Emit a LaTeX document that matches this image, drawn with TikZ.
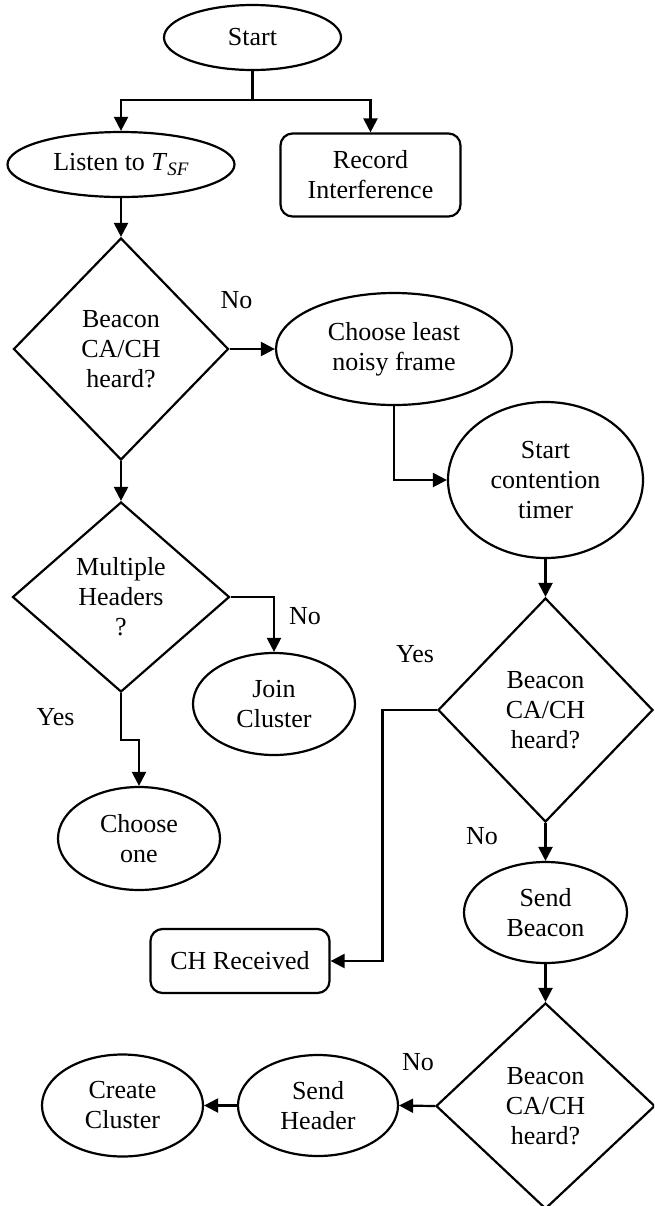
\documentclass[tikz,border=0pt]{standalone}
\usepackage{fontspec}
\setmainfont{Liberation Serif}
\usetikzlibrary{shapes.geometric,arrows.meta}
\tikzset{
  base/.style={draw=black, line width=1.1pt, inner sep=0pt, align=center,
    font=\fontsize{13}{15}\selectfont},
  oval/.style={base, ellipse},
  box/.style={base, rectangle, rounded corners=6pt},
  decision/.style={base, diamond},
  lbl/.style={inner sep=0pt, font=\fontsize{13}{15}\selectfont},
  arr/.style={line width=1.1pt, -{Triangle[length=7pt,width=7pt]}},
  ln/.style={line width=1.1pt}
}
\begin{document}
\begin{tikzpicture}[x=0.5pt, y=-0.5pt]
\useasboundingbox (0,0) rectangle (654,1206);
\clip (0,0) rectangle (654,1206);
% nodes
\node[oval, minimum width=88.5pt, minimum height=32.5pt] (start) at (252.5,37.5) {Start};
\node[oval, minimum width=113.5pt, minimum height=32.5pt] (listen) at (121,164.5) {Listen to \textit{T}\raisebox{-0.45ex}{\fontsize{9.5}{10}\selectfont\textit{SF}}};
\node[box, minimum width=90pt, minimum height=41.5pt] (record) at (370.5,175) {Record\\Interference};
\node[decision, minimum width=107.5pt, minimum height=111pt] (d1) at (121,349) {Beacon\\CA/CH\\heard?};
\node[oval, minimum width=118pt, minimum height=56pt] (choose) at (394,349) {Choose least\\noisy frame};
\node[oval, minimum width=97.5pt, minimum height=78pt] (timer) at (545.5,480) {Start\\contention\\timer};
\node[decision, minimum width=108.5pt, minimum height=95pt] (d2) at (121,597) {Multiple\\Headers\\?};
\node[oval, minimum width=81pt, minimum height=51pt] (join) at (274,704) {Join\\Cluster};
\node[oval, minimum width=81pt, minimum height=51.5pt] (one) at (139,838.5) {Choose\\one};
\node[decision, minimum width=107.5pt, minimum height=112pt] (d3) at (545.5,710) {Beacon\\CA/CH\\heard?};
\node[box, minimum width=89.5pt, minimum height=32pt] (chr) at (240,961) {CH Received};
\node[oval, minimum width=81.5pt, minimum height=50.5pt] (beacon) at (545.5,912.5) {Send\\Beacon};
\node[decision, minimum width=109.5pt, minimum height=103pt] (d4) at (545.5,1106) {Beacon\\CA/CH\\heard?};
\node[oval, minimum width=80pt, minimum height=50.5pt] (header) at (318,1105.5) {Send\\Header};
\node[oval, minimum width=80.5pt, minimum height=51pt] (create) at (122.5,1105.5) {Create\\Cluster};
% labels
\node[lbl] (no1) at (236.5,300) {No};
\node[lbl] (no2) at (305,616) {No};
\node[lbl] (yes1) at (55.5,717) {Yes};
\node[lbl] (yes2) at (415,654) {Yes};
\node[lbl] (no3) at (482,836) {No};
\node[lbl] (no4) at (418,1062) {No};
% bend points
\coordinate (b1) at (252.5,100);
\coordinate (k1) at (121,740);
\coordinate (k2) at (382.5,710);
% connectors
\draw[ln] (start.south) -- (b1);
\draw[arr] (b1) -| (listen.north);
\draw[arr] (b1) -| (record.north);
\draw[arr] (listen.south) -- (d1.north);
\draw[arr] (d1.east) -- (choose.west);
\draw[arr] (choose.south) |- (timer.west);
\draw[arr] (d1.south) -- (d2.north);
\draw[arr] (d2.east) -| (join.north);
\draw[arr] (d2.south) -- (k1) -| (one.north);
\draw[arr] (timer.south) -- (d3.north);
\draw[arr] (d3.west) -- (k2) |- (chr.east);
\draw[arr] (d3.south) -- (beacon.north);
\draw[arr] (beacon.south) -- (d4.north);
\draw[arr] (d4.west) -- (header.east);
\draw[arr] (header.west) -- (create.east);
\end{tikzpicture}
\end{document}
